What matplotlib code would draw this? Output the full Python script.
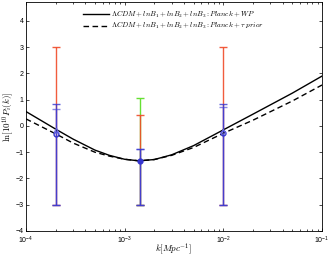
import numpy as np
import matplotlib
matplotlib.use("Agg")
from matplotlib import pyplot as plt

# theory curves
k_th = [1e-4, 2e-4, 3e-4, 5e-4, 7e-4, 1e-3, 1.4e-3, 2e-3, 3e-3, 5e-3, 1e-2, 2e-2, 5e-2, 1e-1]
p_wp = [0.55, -0.12, -0.50, -0.92, -1.12, -1.27, -1.33, -1.28, -1.10, -0.75, -0.15, 0.45, 1.25, 1.90]
p_tau = [0.27, -0.30, -0.65, -1.00, -1.15, -1.27, -1.33, -1.28, -1.12, -0.82, -0.28, 0.22, 0.95, 1.56]

# binned amplitudes
k_bin = [2e-4, 1.43e-3, 1e-2]
centre_a = [-0.30, -1.35, -0.28]
centre_b = [-0.15, -1.35, -0.18]
lower = [-3.0, -3.0, -3.0]
upper_red = [3.0, 0.42, 3.0]
upper_green = [1.05]
upper_blue1 = [0.82, -0.87, 0.82]
upper_blue2 = [0.65, -0.87, 0.72]

plt.rcParams['mathtext.fontset'] = 'cm'
plt.rcParams['font.family'] = ['Liberation Sans', 'DejaVu Sans']
plt.rcParams['xtick.direction'] = 'in'
plt.rcParams['ytick.direction'] = 'in'

fig = plt.figure(figsize=(3.32, 2.58), dpi=100)
ax = fig.add_axes([0.078, 0.105, 0.892, 0.887])

def bars(ks, c, lo, up, col, alpha=1.0):
    c = np.array(c); lo = np.array(lo); up = np.array(up)
    ax.errorbar(ks, c, yerr=[c - lo, up - c], fmt='none', ecolor=col,
                elinewidth=1.0, capsize=2.8, capthick=1.0, alpha=alpha)

bars([k_bin[1]], [centre_a[1]], [lower[1]], upper_green, '#66e033')
bars(k_bin, centre_a, lower, upper_red, '#f04a28', 0.9)
bars(k_bin, centre_b, lower, upper_blue2, '#6a6ae0', 0.8)
bars(k_bin, centre_a, lower, upper_blue1, '#3535d0', 0.8)

ax.plot(k_th, p_wp, 'k-', lw=1.0,
        label=r'$\Lambda CDM+lnB_1+lnB_2+lnB_3:Planck+WP$')
ax.plot(k_th, p_tau, 'k--', lw=1.0, dashes=(4, 2.5),
        label=r'$\Lambda CDM+lnB_1+lnB_2+lnB_3:Planck+\tau\ prior$')

ax.plot([k_bin[0], k_bin[2]], [centre_a[0], centre_a[2]], 'o', ms=3.5,
        mfc='none', mec='#3535d0', mew=1.0)
ax.plot([k_bin[0], k_bin[2]], [centre_b[0], centre_b[2]], '^', ms=3.5,
        mfc='none', mec='#6a6ae0', mew=0.8)
ax.plot([k_bin[1]], [centre_a[1]], 'o', ms=3.5, color='#3535d0')

ax.set_xscale('log')
ax.set_xlim(1e-4, 1e-1)
ax.set_ylim(-4, 4.72)
ax.set_yticks(range(-4, 5))
ax.tick_params(which='both', top=True, right=True, labelsize=5, length=2.5, width=0.5)
ax.tick_params(axis='x', pad=3)
ax.tick_params(axis='y', pad=1.5)
ax.tick_params(which='minor', length=1.5)
for s in ax.spines.values():
    s.set_linewidth(0.6)

ax.set_xlabel(r'$k[Mpc^{-1}]$', fontsize=6.5, labelpad=-3.5)
ax.set_ylabel(r'$\ln[10^{10}P_i(k)]$', fontsize=6.5, labelpad=0)

leg = ax.legend(loc='upper center', bbox_to_anchor=(0.5, 0.995), frameon=False,
                fontsize=5.3, handlelength=3.4, borderpad=0.4, labelspacing=0.15,
                handletextpad=0.4)

fig.savefig('out.png', dpi=100)
